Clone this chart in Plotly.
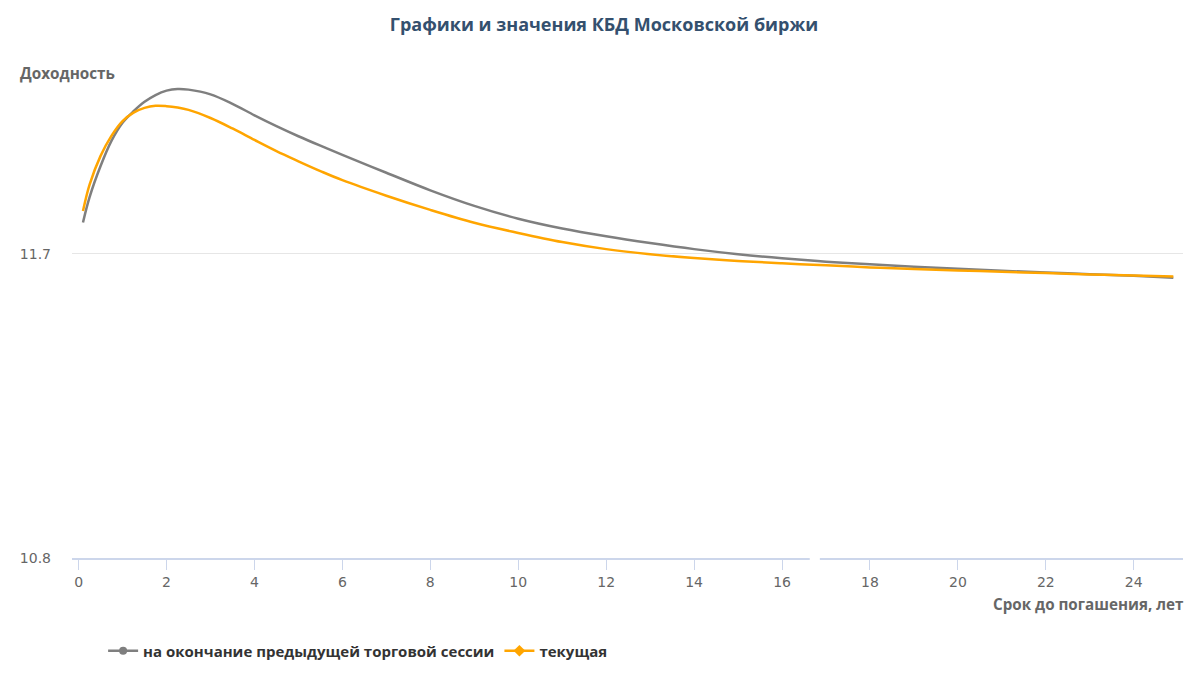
import plotly.graph_objects as go

# Срок до погашения, лет
terms = [0.1, 0.25, 0.5, 0.75, 1.0, 1.25, 1.5, 1.75, 2.0, 2.25, 2.5, 3.0, 3.5, 4.0, 4.5,
         5.0, 5.5, 6.0, 7.0, 8.0, 9.0, 10.0, 11.0, 12.0, 13.0, 14.0, 15.0, 16.0, 17.0, 18.0,
         19.0, 20.0, 21.0, 22.0, 23.0, 24.0, 24.9]

# на окончание предыдущей торговой сессии
prev_yield = [11.793, 11.868, 11.960, 12.035, 12.088, 12.122, 12.150, 12.170, 12.183, 12.188, 12.186,
              12.172, 12.144, 12.110, 12.078,
              12.048, 12.020, 11.993, 11.940, 11.888, 11.842, 11.804, 11.775, 11.752, 11.732, 11.714, 11.699,
              11.687, 11.677, 11.669, 11.662, 11.656, 11.650, 11.645, 11.640, 11.635, 11.629]

# текущая
curr_yield = [11.827, 11.905, 11.990, 12.050, 12.093, 12.118, 12.132, 12.138, 12.137, 12.133, 12.126,
              12.102, 12.071, 12.037, 12.004,
              11.974, 11.945, 11.918, 11.872, 11.830, 11.792, 11.762, 11.735, 11.714, 11.699, 11.688, 11.679,
              11.672, 11.666, 11.660, 11.655, 11.651, 11.647, 11.643, 11.639, 11.636, 11.633]

y_ticks = [10.8, 11.7]
x_ticks = [0, 2, 4, 6, 8, 10, 12, 14, 16, 18, 20, 22, 24]

series_names = ["на окончание предыдущей торговой сессии", "текущая"]
GREY = "#7f7f7f"
ORANGE = "#FFA500"

# page body adds an 8px margin; figure is sized so that it ends at the window edge
W, H = 1192, 676
L, R, T, B = 60, 17, 60, 126
PW, PH = W - L - R, H - T - B

fig = go.Figure()
fig.add_trace(go.Scatter(x=terms, y=prev_yield, mode="lines", line=dict(color=GREY, width=2.5, shape="spline"),
                         showlegend=False, hoverinfo="x+y"))
fig.add_trace(go.Scatter(x=terms, y=curr_yield, mode="lines", line=dict(color=ORANGE, width=2.5, shape="spline"),
                         showlegend=False, hoverinfo="x+y"))
# legend entries
fig.add_trace(go.Scatter(x=[None], y=[None], mode="lines+markers", name="<b>" + series_names[0] + "</b>",
                         line=dict(color=GREY, width=2.5), marker=dict(symbol="circle", size=8, color=GREY)))
fig.add_trace(go.Scatter(x=[None], y=[None], mode="lines+markers", name="<b>" + series_names[1] + "</b>",
                         line=dict(color=ORANGE, width=2.5), marker=dict(symbol="diamond", size=9, color=ORANGE)))

fig.update_layout(
    width=W, height=H,
    margin=dict(l=L, r=R, t=T, b=B),
    paper_bgcolor="white", plot_bgcolor="white",
    title=dict(text="<b>Графики и значения КБД Московской биржи</b>", x=0.5, xanchor="center",
               y=1 - 17/H, yanchor="middle", font=dict(family="Open Sans", size=18, color="#34506e")),
    xaxis=dict(range=[-0.15, 25.12], tickvals=x_ticks, showgrid=False, zeroline=False,
               showline=True, linecolor="#ccd6eb", linewidth=1.5,
               ticks="outside", ticklen=10, tickcolor="#ccd6eb", tickwidth=1,
               tickfont=dict(family="DejaVu Sans", size=14, color="#666666")),
    yaxis=dict(range=[10.8, 12.25], tickvals=y_ticks, ticktext=["10.8", "11.7"], showgrid=True,
               gridcolor="#e6e6e6", gridwidth=1, zeroline=False, showline=False, ticks="",
               ticklabelstandoff=20,
               tickfont=dict(family="DejaVu Sans", size=14, color="#666666")),
    legend=dict(orientation="h", x=0.028, xanchor="left", y=(550 - 643) / PH, yanchor="middle",
                font=dict(family="Open Sans", size=15, color="#333333"), itemwidth=30,
                bgcolor="rgba(0,0,0,0)"),
    annotations=[
        dict(text="<b>Доходность</b>", xref="paper", yref="paper", x=-54/PW, y=1 - 5/PH,
             xanchor="left", yanchor="middle", showarrow=False,
             font=dict(family="Open Sans", size=15.3, color="#666666")),
        dict(text="<b>Срок до погашения, лет</b>", xref="paper", yref="paper", x=1 + 3/PW, y=-46/PH,
             xanchor="right", yanchor="middle", showarrow=False,
             font=dict(family="Open Sans", size=15.2, color="#666666")),
    ],
    shapes=[
        dict(type="line", xref="x", yref="paper", x0=16.63, x1=16.86, y0=0, y1=0,
             line=dict(color="white", width=4), layer="above"),
    ],
    font=dict(family="Open Sans"),
)

fig.write_html("out.html")
